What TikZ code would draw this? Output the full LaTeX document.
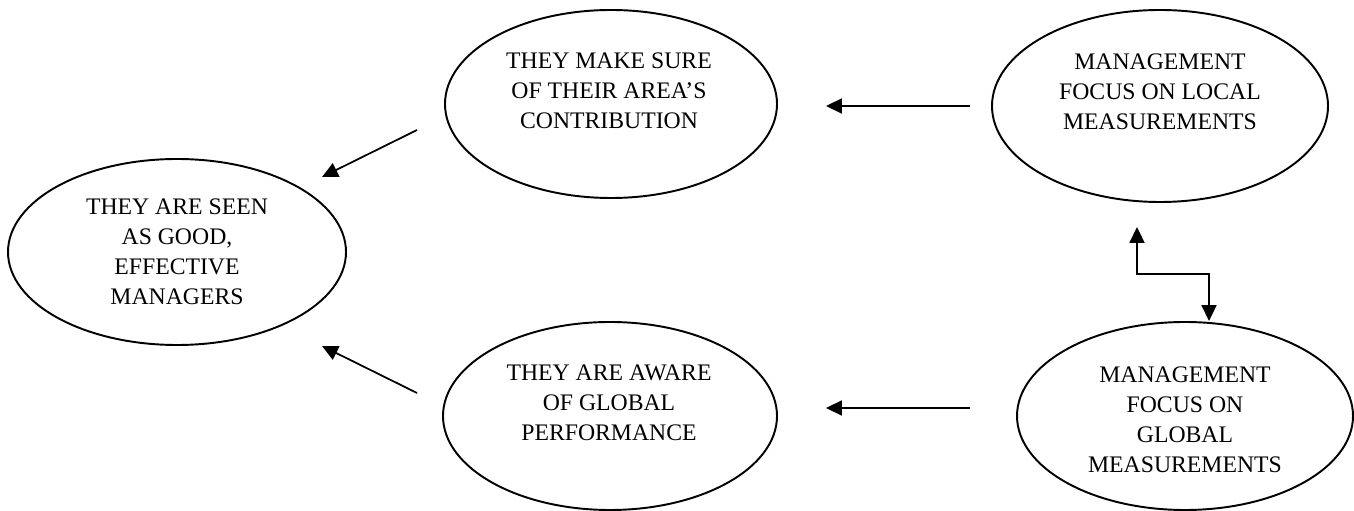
\documentclass[tikz,border=0pt]{standalone}
\usepackage{fontspec}
\setmainfont{Liberation Serif}
\usetikzlibrary{arrows.meta}
\usetikzlibrary{shapes.geometric}

\begin{document}
\begin{tikzpicture}[oval/.style = {draw, ellipse, line width=1.1pt, inner sep=0pt},
                    txt/.style = {align=center, font=\fontsize{13.5}{17}\selectfont},
                    arr/.style = {line width=1pt, -{Triangle[length=9pt,width=8.5pt]}}]
				\useasboundingbox (0,0) rectangle (27.08,10.22);
				% ellipses
				\node[oval, minimum width=6.76cm, minimum height=3.72cm] (seen) at (3.54,5.18) {};
				\node[oval, minimum width=6.64cm, minimum height=3.76cm] (sure) at (12.22,8.14) {};
				\node[oval, minimum width=6.72cm, minimum height=3.84cm] (local) at (23.20,8.10) {};
				\node[oval, minimum width=6.68cm, minimum height=3.76cm] (aware) at (12.20,1.90) {};
				\node[oval, minimum width=6.72cm, minimum height=3.76cm] (global) at (23.70,1.90) {};
				% texts
				\node[txt] (seen text) at (3.54,5.18) {THEY ARE SEEN\\AS GOOD,\\EFFECTIVE\\MANAGERS};
				\node[txt] (sure text) at (12.18,8.40) {THEY MAKE SURE\\OF THEIR AREA’S\\CONTRIBUTION};
				\node[txt] (local text) at (23.20,8.38) {MANAGEMENT\\FOCUS ON LOCAL\\MEASUREMENTS};
				\node[txt] (aware text) at (12.18,2.16) {THEY ARE AWARE\\OF GLOBAL\\PERFORMANCE};
				\node[txt] (global text) at (23.70,1.82) {MANAGEMENT\\FOCUS ON\\GLOBAL\\MEASUREMENTS};
				% arrow ends
				\coordinate (sure out) at (8.34,7.62);
				\coordinate (seen in top) at (6.44,6.68);
				\coordinate (aware out) at (8.34,2.36);
				\coordinate (seen in bot) at (6.44,3.30);
				\coordinate (local out) at (19.40,8.10);
				\coordinate (sure in) at (16.52,8.10);
				\coordinate (global out) at (19.40,2.06);
				\coordinate (aware in) at (16.52,2.06);
				\coordinate (local in) at (22.74,5.68);
				\coordinate (global in) at (24.18,3.80);
				\draw [arr] (sure out) -- (seen in top);
				\draw [arr] (aware out) -- (seen in bot);
				\draw [arr] (local out) -- (sure in);
				\draw [arr] (global out) -- (aware in);
				\draw [arr, {Triangle[length=9pt,width=8.5pt]}-{Triangle[length=9pt,width=8.5pt]}] (local in) -- (22.74,4.74) -- (24.18,4.74) -- (global in);
			\end{tikzpicture}
\end{document}
